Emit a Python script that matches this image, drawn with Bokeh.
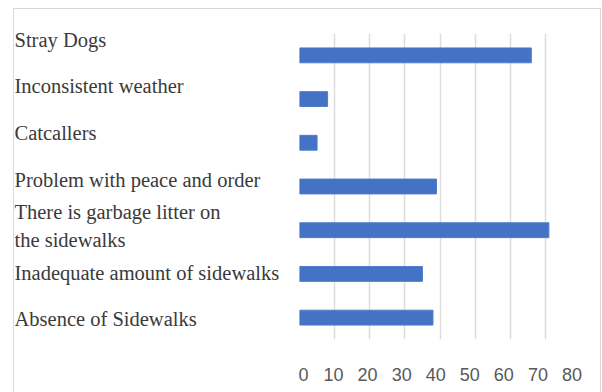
from bokeh.plotting import figure
from bokeh.models import ColumnDataSource, FixedTicker, Range1d, FactorRange, LinearAxis
from bokeh.layouts import row
from bokeh.core.properties import value
from bokeh.embed import file_html
from bokeh.resources import INLINE

# data (bottom to top)
categories = [
    "Absence of Sidewalks",
    "Inadequate amount of sidewalks",
    "There is garbage  litter on\n the sidewalks",
    "Problem with peace and order",
    "Catcallers",
    "Inconsistent weather",
    "Stray Dogs",
]
values = [38, 35, 71, 39, 5, 8, 66]
x_ticks = [0, 10, 20, 30, 40, 50, 60, 70, 80]

source = ColumnDataSource(data=dict(cat=categories, val=values))
y_range = FactorRange(factors=categories, range_padding=0)
# category labels are spread a little wider than the bars, as in the reference
label_range = FactorRange(factors=categories, range_padding=0.0376,
                          range_padding_units="absolute")

TOP, BOTTOM = 24, 54

# left panel: category labels
pl = figure(width=284, height=384, output_backend="svg", toolbar_location=None,
            y_range=label_range, x_range=Range1d(0, 1),
            min_border_left=0, min_border_right=0,
            min_border_top=0, min_border_bottom=BOTTOM)
try:
    pl.frame_align = False
except Exception:
    pass
pl.axis.visible = False
pl.grid.visible = False
pl.outline_line_color = None
pl.text(x=0, y="cat", text="cat", source=source, y_offset=5,
        text_baseline="middle", text_align="left",
        text_font=value("Liberation Serif"), text_font_size="20.5px",
        text_line_height=1.3, text_color="#3a3a3a")

# right panel: bars
p = figure(width=302, height=384, output_backend="svg", toolbar_location=None,
           y_range=y_range, x_range=Range1d(0, 80), x_axis_location=None,
           min_border_left=1, min_border_right=20,
           min_border_top=TOP, min_border_bottom=BOTTOM)
try:
    p.frame_align = False
except Exception:
    pass

p.hbar(y="cat", right="val", left=0, height=0.34, source=source,
       fill_color="#4472C4", line_color="#4f7dcc")

p.yaxis.visible = False
p.ygrid.visible = False
p.outline_line_color = None

p.extra_x_ranges = {"ticks": Range1d(0, 82.5)}
xaxis = LinearAxis(x_range_name="ticks", ticker=FixedTicker(ticks=x_ticks))
xaxis.axis_line_color = None
xaxis.major_tick_line_color = None
xaxis.minor_tick_line_color = None
xaxis.major_tick_in = 0
xaxis.major_tick_out = 0
xaxis.major_label_standoff = 28
xaxis.major_label_text_font = "Liberation Sans"
xaxis.major_label_text_font_size = "18px"
xaxis.major_label_text_color = "#595959"
p.add_layout(xaxis, "below")

p.xgrid.ticker = FixedTicker(ticks=x_ticks[:-1])
p.xgrid.grid_line_color = "#dcdcdc"
p.xgrid.grid_line_width = 1.5

for f in (pl, p):
    f.background_fill_color = "white"
    f.border_fill_color = "white"

layout = row(pl, p, spacing=0)
layout.margin = (8, 0, 0, 13)
layout.styles = {"border-top": "1px solid #d9d9d9",
                 "border-left": "1px solid #d9d9d9",
                 "border-right": "1px solid #d9d9d9"}

open("out.html", "w").write(file_html(layout, INLINE))
